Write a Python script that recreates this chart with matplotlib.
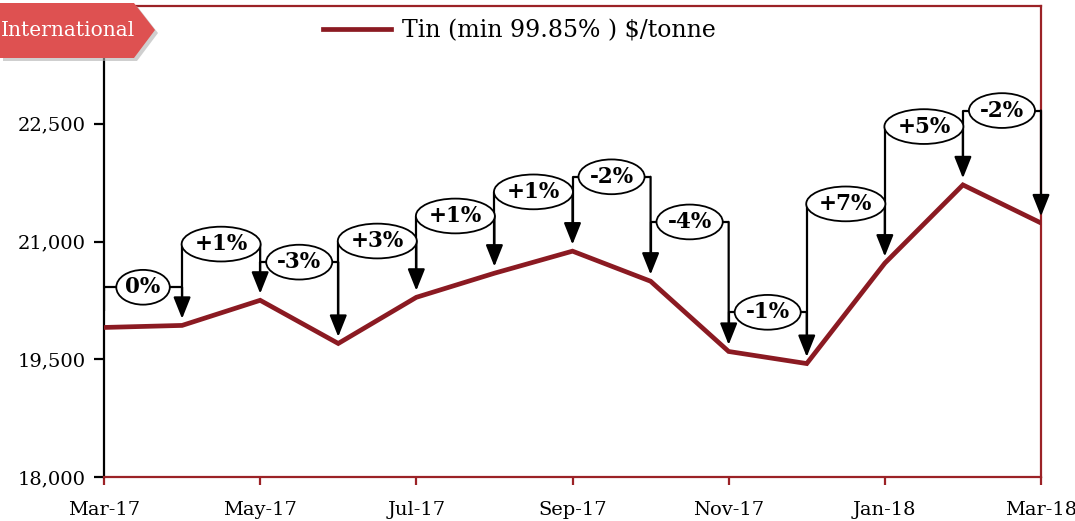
import numpy as np
import matplotlib.pyplot as plt
from matplotlib.patches import Polygon
from matplotlib.ticker import FuncFormatter

# monthly tin price, $/tonne
months = ['Mar-17', 'Apr-17', 'May-17', 'Jun-17', 'Jul-17', 'Aug-17', 'Sep-17',
          'Oct-17', 'Nov-17', 'Dec-17', 'Jan-18', 'Feb-18', 'Mar-18']
prices = [19905, 19931, 20251, 19701, 20289, 20596, 20877,
          20494, 19599, 19445, 20724, 21721, 21236]

# month-on-month change labels and the height of each bracket
change_labels = ['0%', '+1%', '-3%', '+3%', '+1%', '+1%', '-2%',
                 '-4%', '-1%', '+7%', '+5%', '-2%']
bracket_levels = [20417, 20967, 20737, 21006, 21325, 21632, 21824,
                  21249, 20098, 21479, 22464, 22668]

red = '#8b1a22'
frame_red = '#9b2226'
tag_red = '#de5151'
serif = 'DejaVu Serif'

plt.rcParams['font.family'] = serif

W, H = 1075, 521
fig = plt.figure(figsize=(W / 100, H / 100), dpi=100)
ax = fig.add_axes([104 / W, 44 / H, (1041 - 104) / W, (477 - 6) / H])

x = np.arange(len(months))
ax.plot(x, prices, color=red, lw=3.4, solid_joinstyle='miter', zorder=3,
        label='Tin (min 99.85% ) $/tonne')

# brackets with arrows and ellipse labels
gap = 85
for i, (lab, lvl) in enumerate(zip(change_labels, bracket_levels)):
    x0, x1 = x[i], x[i + 1]
    y_start = prices[i] + gap + 120
    ax.plot([x0, x0, x1], [y_start, lvl, lvl], color='black', lw=1.6, zorder=4,
            solid_capstyle='butt')
    ax.annotate('', xy=(x1, prices[i + 1] + gap), xytext=(x1, lvl),
                arrowprops=dict(arrowstyle='-|>,head_length=0.55,head_width=0.22',
                                color='black', lw=1.6, mutation_scale=24,
                                shrinkA=0, shrinkB=0), zorder=4)
    ax.text((x0 + x1) / 2, lvl, lab, ha='center', va='center', fontsize=15.5,
            fontweight='bold', zorder=6,
            bbox=dict(boxstyle='ellipse,pad=0.06', fc='white', ec='black', lw=1.3))

ax.set_xlim(0, 12)
ax.set_ylim(18000, 24000)
ax.set_xticks(x[::2])
ax.set_xticklabels(months[::2])
ax.set_yticks([18000, 19500, 21000, 22500])
ax.yaxis.set_major_formatter(FuncFormatter(lambda v, p: f'{v:,.0f}'))
ax.tick_params(axis='x', colors=frame_red, labelcolor='black', length=6, width=1.6,
               labelsize=14, pad=11)
ax.tick_params(axis='y', color='black', length=7, width=1.6, labelsize=14, pad=6)

for side in ['top', 'right', 'bottom']:
    ax.spines[side].set_color(frame_red)
    ax.spines[side].set_linewidth(1.6)
ax.spines['left'].set_color('black')
ax.spines['left'].set_linewidth(1.6)

ax.legend(loc='center left', bbox_to_anchor=(323 / W, 1 - 31 / H),
          bbox_transform=fig.transFigure, frameon=False, borderpad=0,
          borderaxespad=0, handlelength=2.9, handletextpad=0.45,
          prop={'family': serif, 'size': 17})

# "International" tag in the top-left corner
def px(pts):
    return [(a / W, 1 - b / H) for a, b in pts]

tag = [(0, 3), (134, 3), (155, 30), (134, 58), (0, 58)]
shadow = [(a + 3, b + 3) for a, b in tag]
fig.patches.append(Polygon(px(shadow), closed=True, transform=fig.transFigure,
                           fc='#b0b0b0', ec='none', alpha=0.6, zorder=10))
fig.patches.append(Polygon(px(tag), closed=True, transform=fig.transFigure,
                           fc=tag_red, ec='none', zorder=11))
fig.text(1 / W, 1 - 30 / H, 'International', color='white', fontsize=14.5,
         ha='left', va='center', zorder=12)

fig.savefig('out.png', dpi=100)
